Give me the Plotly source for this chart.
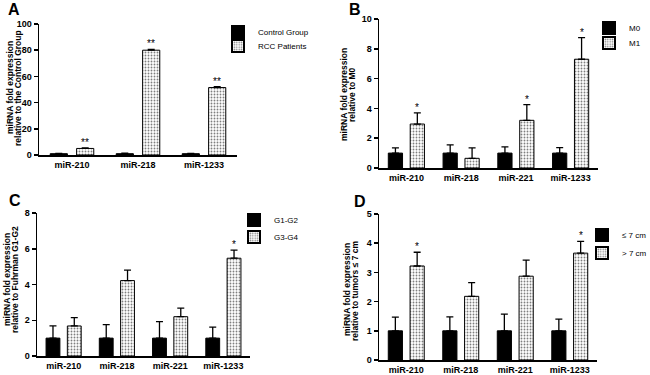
import plotly.graph_objects as go

# ---------------- data ----------------
cats_a = ["miR-210", "miR-218", "miR-1233"]
ctrl_a = [1.0, 1.0, 1.0]
ctrl_a_err = [0.3, 0.4, 0.3]
rcc_a = [5.0, 80.0, 51.5]
rcc_a_err = [0.4, 0.6, 0.6]
sig_a = ["**", "**", "**"]

cats = ["miR-210", "miR-218", "miR-221", "miR-1233"]
m0 = [1.0, 1.0, 1.0, 1.0]
m0_err = [0.35, 0.55, 0.42, 0.37]
m1 = [2.95, 0.65, 3.2, 7.3]
m1_err = [0.75, 0.7, 1.05, 1.45]
sig_b = ["*", "", "*", "*"]

g12 = [1.0, 1.0, 1.0, 1.0]
g12_err = [0.68, 0.75, 0.92, 0.62]
g34 = [1.68, 4.22, 2.2, 5.47]
g34_err = [0.47, 0.58, 0.48, 0.45]
sig_c = ["", "", "", "*"]

le7 = [1.0, 1.0, 1.0, 1.0]
le7_err = [0.47, 0.48, 0.57, 0.4]
gt7 = [3.22, 2.18, 2.87, 3.66]
gt7_err = [0.47, 0.47, 0.55, 0.4]
sig_d = ["*", "", "", "*"]

W, H = 650, 375
FONT = "Liberation Sans, Arial, sans-serif"

def px(x):
    return x / W

def py(y):
    return 1 - y / H

fig = go.Figure()

panels = [
    dict(ax="", cats=cats_a, s1=("Control Group", ctrl_a, ctrl_a_err),
         s2=("RCC Patients", rcc_a, rcc_a_err), sig=sig_a,
         xd=(39, 237), yd=(155, 24), rng=(0, 100), dt=20,
         legx=258, legy=(32, 46),
         t1="miRNA fold expression", t2="relative to the Control Group",
         tx=(10, 18), ty=88, letter="A", lpos=(14, 10)),
    dict(ax="2", cats=cats, s1=("M0", m0, m0_err), s2=("M1", m1, m1_err), sig=sig_b,
         xd=(379, 598), yd=(168, 19), rng=(0, 10), dt=2,
         legx=629, legy=(28, 43),
         t1="miRNA fold expression", t2="relative to M0",
         tx=(344, 352), ty=95, letter="B", lpos=(355, 9)),
    dict(ax="3", cats=cats, s1=("G1-G2", g12, g12_err), s2=("G3-G4", g34, g34_err), sig=sig_c,
         xd=(37, 250), yd=(356, 213), rng=(0, 8), dt=2,
         legx=274, legy=(220, 237),
         t1="miRNA fold expression", t2="relative to Fuhrman G1-G2",
         tx=(7, 15), ty=280, letter="C", lpos=(15, 200)),
    dict(ax="4", cats=cats, s1=("≤ 7 cm", le7, le7_err), s2=("> 7 cm", gt7, gt7_err), sig=sig_d,
         xd=(379, 597), yd=(360, 214), rng=(0, 5), dt=1,
         legx=622, legy=(235, 253),
         t1="miRNA fold expression", t2="relative to tumors ≤ 7 cm",
         tx=(347, 355), ty=290, letter="D", lpos=(360, 201)),
]

annotations = []
layout = {}
leg_i = 0
for p in panels:
    xa = "x" + p["ax"]
    ya = "y" + p["ax"]
    n1, v1, e1 = p["s1"]
    n2, v2, e2 = p["s2"]
    lg1 = "legend" if leg_i == 0 else "legend%d" % (leg_i + 1)
    lg2 = "legend%d" % (leg_i + 2)
    leg_i += 2
    fig.add_trace(go.Bar(
        x=p["cats"], y=v1, name=n1, xaxis=xa, yaxis=ya, legend=lg1,
        marker=dict(color="black", line=dict(color="black", width=1)),
        error_y=dict(type="data", array=e1, arrayminus=[0] * len(e1), symmetric=False,
                     color="black", thickness=1.3, width=3.5),
    ))
    fig.add_trace(go.Bar(
        x=p["cats"], y=v2, name=n2, xaxis=xa, yaxis=ya, legend=lg2,
        marker=dict(color="white", line=dict(color="black", width=1),
                    pattern=dict(shape=".", fgcolor="black", bgcolor="white",
                                 size=3, solidity=0.3)),
        error_y=dict(type="data", array=e2, arrayminus=[0] * len(e2), symmetric=False,
                     color="black", thickness=1.3, width=3.5),
    ))
    for i, s in enumerate(p["sig"]):
        if s:
            annotations.append(dict(
                xref=xa, yref=ya, x=i + 0.2, y=v2[i] + e2[i], text=s, showarrow=False,
                yanchor="bottom", yshift=-2, font=dict(family=FONT, size=10, color="#000000")))
    xkey = "xaxis" + p["ax"]
    ykey = "yaxis" + p["ax"]
    layout[xkey] = dict(
        domain=[px(p["xd"][0]), px(p["xd"][1])], anchor=ya, range=[-0.5, len(p["cats"]) - 0.5],
        showline=True, linecolor="black", linewidth=1.5, ticks="", showgrid=False,
        tickfont=dict(family=FONT, size=9, color="black", weight="bold"),
        ticklabelstandoff=1, fixedrange=True, automargin=False,
    )
    layout[ykey] = dict(
        domain=[py(p["yd"][0]), py(p["yd"][1])], anchor=xa, range=list(p["rng"]),
        dtick=p["dt"], tick0=0, showline=True, linecolor="black", linewidth=1.5,
        ticks="outside", ticklen=4, tickwidth=1.5, tickcolor="black", showgrid=False,
        zeroline=False, tickfont=dict(family=FONT, size=9, color="black", weight="bold"),
        fixedrange=True, automargin=False,
    )
    for lg, ly in ((lg1, p["legy"][0]), (lg2, p["legy"][1])):
        layout[lg] = dict(
            x=px(p["legx"] - 40), y=py(ly), xanchor="left", yanchor="middle",
            bgcolor="rgba(0,0,0,0)", borderwidth=0,
            font=dict(family=FONT, size=8, color="black"),
            itemsizing="constant",
        )
    annotations.append(dict(
        xref="paper", yref="paper", x=px(p["tx"][0]), y=py(p["ty"]), text=p["t1"],
        textangle=-90, showarrow=False, xanchor="center", yanchor="middle",
        font=dict(family=FONT, size=8.5, color="black", weight="bold")))
    annotations.append(dict(
        xref="paper", yref="paper", x=px(p["tx"][1]), y=py(p["ty"]), text=p["t2"],
        textangle=-90, showarrow=False, xanchor="center", yanchor="middle",
        font=dict(family=FONT, size=8.5, color="black", weight="bold")))
    annotations.append(dict(
        xref="paper", yref="paper", x=px(p["lpos"][0]), y=py(p["lpos"][1]), text=p["letter"],
        showarrow=False, xanchor="center", yanchor="middle",
        font=dict(family=FONT, size=16, color="black", weight="bold")))

fig.update_layout(
    width=W, height=H, autosize=False,
    margin=dict(l=0, r=0, t=0, b=0, pad=0, autoexpand=False),
    paper_bgcolor="white", plot_bgcolor="white",
    barmode="group", bargap=0.2, bargroupgap=0.35,
    annotations=annotations, showlegend=True, hovermode=False,
    **layout,
)

fig.write_html(
    "out.html",
    config={"displayModeBar": False, "staticPlot": True},
    post_script="document.body.style.margin='0';document.documentElement.style.margin='0';",
)
